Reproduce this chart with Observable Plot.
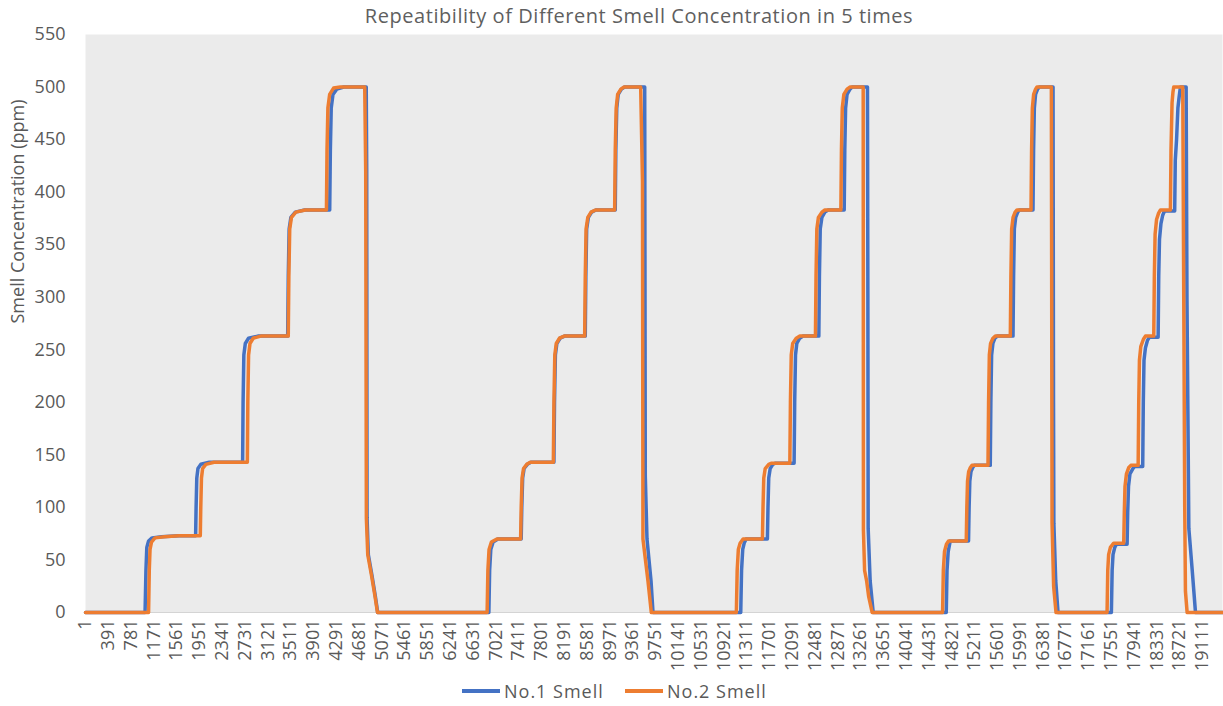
<!DOCTYPE html>
<html>
<head>
<meta charset="utf-8">
<script src="https://cdn.jsdelivr.net/npm/d3@7"></script>
<script src="https://cdn.jsdelivr.net/npm/@observablehq/plot@0.6"></script>
<style>
  body { margin: 0; background: #ffffff; font-family: "Open Sans", sans-serif; }
  #wrap { position: relative; width: 1223px; height: 706px; overflow: hidden; }
  #title { position: absolute; top: 2px; left: 0; width: 1278px; text-align: center; font-size: 20px; letter-spacing: 0.55px; color: #5f5f5f; white-space: nowrap; }
  .leg { position: absolute; top: 679px; display: flex; align-items: center; font-size: 18px; letter-spacing: 1px; color: #595959; }
  .sw { width: 38px; height: 4px; margin-right: 4px; }
</style>
</head>
<body>
<div id="wrap">
  <div id="chart"></div>
  <div id="title"></div>
  <div id="legend"></div>
</div>
<script>
const chartTitle = "Repeatibility of Different Smell Concentration in 5 times";
const yAxisTitle = "Smell Concentration (ppm)";
const seriesNames = ["No.1 Smell", "No.2 Smell"];
const seriesColors = ["#4472C4", "#ED7D31"];

// x tick labels (category numbers shown on the axis)
const xTickLabels = [1, 391, 781, 1171, 1561, 1951, 2341, 2731, 3121, 3511, 3901, 4291, 4681, 5071, 5461, 5851, 6241, 6631, 7021, 7411, 7801, 8191, 8581, 8971, 9361, 9751, 10141, 10531, 10921, 11311, 11701, 12091, 12481, 12871, 13261, 13651, 14041, 14431, 14821, 15211, 15601, 15991, 16381, 16771, 17161, 17551, 17941, 18331, 18721, 19111];
const yTicks = [0, 50, 100, 150, 200, 250, 300, 350, 400, 450, 500, 550];
const lastSample = 19453;

// No.1 Smell: [sample index, concentration ppm]
const no1Smell = [
  [1,0],[1020,0],[1035,40],[1050,62],[1080,68],[1140,71],[1300,72],[1600,73],[1885,73],
  [1893,100],[1905,128],[1925,137],[1975,141],[2120,143],[2689,143],
  [2697,200],[2710,245],[2735,256],[2790,261],[2950,263],[3460,263],
  [3470,320],[3485,365],[3515,376],[3590,381],[3750,383],[4179,383],
  [4190,440],[4205,480],[4235,493],[4300,498],[4420,500],[4804,500],
  [4812,420],[4818,90],[4840,55],[4903,35],[4961,15],[5000,0],
  [6902,0],[6915,40],[6935,60],[6975,67],[7056,70],[7455,70],
  [7465,100],[7480,128],[7505,137],[7560,141],[7621,143],[8015,143],
  [8025,200],[8040,245],[8065,256],[8120,261],[8198,263],[8551,263],
  [8561,320],[8575,365],[8605,376],[8660,381],[8734,383],[9064,383],
  [9074,440],[9090,480],[9115,493],[9170,498],[9225,500],[9568,500],
  [9578,130],[9607,70],[9676,30],[9710,0],
  [11211,0],[11225,40],[11245,60],[11270,66],[11302,70],[11667,70],
  [11677,100],[11690,128],[11715,137],[11760,141],[11798,142],[12124,142],
  [12134,200],[12148,245],[12170,256],[12220,261],[12278,263],[12547,263],
  [12557,320],[12571,365],[12600,376],[12650,381],[12707,383],[12981,383],
  [12991,440],[13005,480],[13030,493],[13080,498],[13117,500],[13379,500],
  [13386,300],[13391,80],[13425,30],[13477,0],
  [14727,0],[14740,40],[14760,58],[14795,68],[15108,68],
  [15118,100],[15130,125],[15150,134],[15180,138],[15207,140],[15480,140],
  [15490,200],[15503,245],[15525,256],[15560,261],[15600,263],[15869,263],
  [15879,320],[15892,365],[15915,376],[15950,381],[15977,383],[16211,383],
  [16221,440],[16234,480],[16255,493],[16290,498],[16319,500],[16554,500],
  [16562,200],[16568,85],[16600,30],[16639,0],
  [17552,0],[17565,40],[17580,55],[17610,62],[17638,65],[17821,65],
  [17831,95],[17845,120],[17870,132],[17920,137],[17953,139],[18088,139],
  [18098,200],[18110,240],[18135,252],[18170,259],[18203,262],[18352,262],
  [18362,320],[18375,355],[18400,370],[18430,378],[18461,382],[18635,382],
  [18645,430],[18667,450],[18690,480],[18710,490],[18733,500],[18831,500],
  [18845,300],[18877,80],[18935,40],[18991,0],[19453,0]
];

// No.2 Smell: [sample index, concentration ppm]
const no2Smell = [
  [1,0],[1080,0],[1092,40],[1105,60],[1130,67],[1190,71],[1350,72],[1600,73],[1965,73],
  [1973,100],[1985,128],[2005,137],[2060,141],[2200,143],[2770,143],
  [2778,200],[2791,245],[2815,256],[2870,261],[3000,263],[3470,263],
  [3480,320],[3495,365],[3525,376],[3600,381],[3760,383],[4123,383],
  [4133,440],[4148,480],[4178,493],[4245,499],[4360,500],[4778,500],
  [4795,420],[4806,90],[4830,55],[4895,35],[4955,15],[4996,0],
  [6872,0],[6885,40],[6905,60],[6945,67],[7040,70],[7445,70],
  [7455,100],[7470,128],[7495,137],[7550,141],[7610,143],[8005,143],
  [8015,200],[8030,245],[8055,256],[8110,261],[8190,263],[8541,263],
  [8551,320],[8565,365],[8595,376],[8650,381],[8725,383],[9054,383],
  [9064,440],[9080,480],[9105,493],[9160,498],[9215,500],[9499,500],
  [9530,410],[9538,70],[9624,30],[9681,0],
  [11136,0],[11150,40],[11170,60],[11200,66],[11251,70],[11582,70],
  [11592,100],[11605,128],[11630,137],[11690,141],[11730,142],[12051,142],
  [12061,200],[12075,245],[12100,256],[12160,261],[12222,263],[12489,263],
  [12499,320],[12513,365],[12540,376],[12600,381],[12650,383],[12924,383],
  [12934,440],[12948,480],[12975,493],[13030,498],[13078,500],[13306,500],
  [13310,78],[13330,40],[13365,30],[13400,15],[13460,0],
  [14664,0],[14677,40],[14697,58],[14730,65],[14766,68],[15069,68],
  [15079,100],[15091,125],[15110,134],[15140,138],[15167,140],[15441,140],
  [15451,200],[15464,245],[15485,256],[15525,261],[15566,263],[15823,263],
  [15833,320],[15846,365],[15870,376],[15905,381],[15937,383],[16177,383],
  [16187,440],[16200,480],[16222,493],[16255,498],[16279,500],[16525,500],
  [16537,85],[16564,25],[16605,0],
  [17478,0],[17490,40],[17505,55],[17535,62],[17592,66],[17763,66],
  [17773,95],[17785,120],[17810,132],[17850,138],[17885,140],[18010,140],
  [18020,200],[18032,240],[18055,253],[18100,260],[18134,263],[18277,263],
  [18287,320],[18300,360],[18325,374],[18360,380],[18392,383],[18562,383],
  [18572,440],[18590,485],[18605,495],[18619,500],[18773,500],
  [18807,100],[18819,20],[18848,0],[19453,0]
];

const toRows = (arr) => arr.map(([i, v]) => ({i, v}));

const chart = Plot.plot({
  width: 1223,
  height: 706,
  marginLeft: 85,
  marginRight: 1,
  marginTop: 34,
  marginBottom: 94,
  style: {background: "transparent", fontFamily: "'Open Sans', sans-serif", fontSize: "18px", color: "#595959", overflow: "visible"},
  x: {type: "linear", domain: [1, lastSample], ticks: xTickLabels, tickFormat: d => String(d), tickRotate: -90, tickSize: 0, tickPadding: 7, label: null},
  y: {domain: [0, 550], ticks: yTicks, tickSize: 0, tickPadding: 20, label: null},
  marks: [
    Plot.frame({fill: "#EBEBEB", stroke: "none"}),
    Plot.ruleY([0], {stroke: "#D4D4D4", strokeWidth: 1}),
    Plot.line(toRows(no1Smell), {x: "i", y: "v", stroke: seriesColors[0], strokeWidth: 3.5, strokeLinejoin: "round"}),
    Plot.line(toRows(no2Smell), {x: "i", y: "v", stroke: seriesColors[1], strokeWidth: 3.5, strokeLinejoin: "round"}),
    Plot.text([yAxisTitle], {frameAnchor: "left", dx: -67, rotate: -90, text: d => d, fontSize: 18, fill: "#595959", letterSpacing: "0.3px"})
  ]
});
document.getElementById("chart").appendChild(chart);
document.getElementById("title").textContent = chartTitle;

const legend = document.getElementById("legend");
const legendLefts = [462, 625];
seriesNames.forEach((name, k) => {
  const item = document.createElement("div");
  item.className = "leg";
  item.style.left = legendLefts[k] + "px";
  const sw = document.createElement("div");
  sw.className = "sw";
  sw.style.background = seriesColors[k];
  const tx = document.createElement("span");
  tx.textContent = name;
  item.appendChild(sw);
  item.appendChild(tx);
  legend.appendChild(item);
});
</script>
</body>
</html>
